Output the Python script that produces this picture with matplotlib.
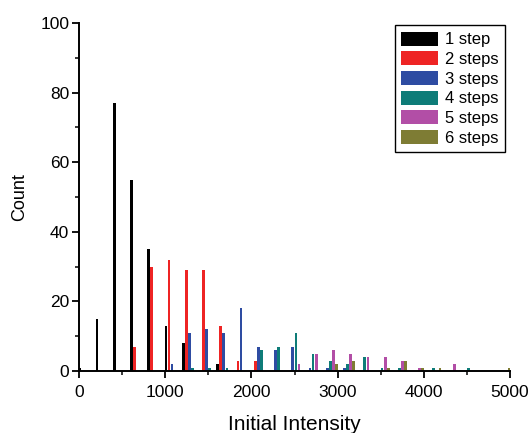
import numpy as np
import matplotlib
matplotlib.use("Agg")
import matplotlib.pyplot as plt
from matplotlib.ticker import MultipleLocator

plt.rcParams["font.family"] = ["Liberation Sans", "DejaVu Sans"]

# histogram bins (left edge of each 200-wide bin)
bins = np.arange(0, 5000, 200)

labels = ["1 step", "2 steps", "3 steps", "4 steps", "5 steps", "6 steps"]
colors = ["#000000", "#ee2424", "#2e4ca2", "#0e7c78", "#b24ea6", "#7e7c34"]

#            0   200 400 600 800 1000 1200 1400 1600 1800 2000 2200 2400 2600 2800 3000 3200 3400 3600 3800 4000 4200 4400 4600 4800
step1 = [1, 15, 77, 55, 35, 13, 8, 0, 2, 0, 0, 0, 0, 0, 0, 0, 0, 0, 0, 0, 0, 0, 0, 0, 0]
step2 = [0, 0, 0, 7, 30, 32, 29, 29, 13, 3, 3, 0, 0, 0, 0, 0, 0, 0, 0, 0, 0, 0, 0, 0, 0]
step3 = [0, 0, 0, 0, 0, 2, 11, 12, 11, 18, 7, 6, 7, 1, 1, 1, 0, 0, 0, 0, 0, 0, 0, 0, 0]
step4 = [0, 0, 0, 0, 0, 0, 1, 1, 1, 0, 6, 7, 11, 5, 3, 2, 4, 1, 1, 0, 1, 0, 1, 0, 0]
step5 = [0, 0, 0, 0, 0, 0, 0, 0, 0, 0, 0, 0, 2, 5, 6, 5, 4, 4, 3, 1, 0, 2, 0, 0, 0]
step6 = [0, 0, 0, 0, 0, 0, 0, 0, 0, 0, 0, 0, 0, 0, 2, 3, 0, 1, 3, 1, 1, 0, 0, 0, 1]

series = [step1, step2, step3, step4, step5, step6]

fig = plt.figure(figsize=(5.32, 4.33), dpi=100)
ax = fig.add_axes([79 / 532, 1 - 371 / 433, 431 / 532, 348 / 433])

for i, (vals, lab, col) in enumerate(zip(series, labels, colors)):
    vals = np.array(vals)
    mask = vals > 0
    ax.bar(bins[mask] + 8 + 36 * i, vals[mask], width=32, color=col, label=lab,
           linewidth=0)

ax.set_xlim(0, 5000)
ax.set_ylim(0, 100)
ax.xaxis.set_major_locator(MultipleLocator(1000))
ax.xaxis.set_minor_locator(MultipleLocator(500))
ax.yaxis.set_major_locator(MultipleLocator(20))
ax.yaxis.set_minor_locator(MultipleLocator(10))

for s in ["top", "right"]:
    ax.spines[s].set_visible(False)
for s in ["left", "bottom"]:
    ax.spines[s].set_linewidth(1.4)

ax.tick_params(which="major", direction="out", length=5, width=1.3, labelsize=12.5)
ax.tick_params(axis="x", which="major", pad=5)
ax.tick_params(axis="y", which="major", pad=2)
ax.tick_params(which="minor", direction="out", length=3, width=1.1)

ax.set_xlabel("Initial Intensity", fontsize=15, labelpad=11)
ax.set_ylabel("Count", fontsize=13, labelpad=9)

leg = ax.legend(loc="upper right", bbox_to_anchor=(0.988, 0.994), borderaxespad=0,
                fontsize=12, frameon=True, fancybox=False, framealpha=1,
                edgecolor="black", handlelength=2.2, handleheight=0.9,
                handletextpad=0.4, labelspacing=0.24, borderpad=0.4)
leg.get_frame().set_linewidth(1.0)

fig.savefig("out.png", dpi=100)
